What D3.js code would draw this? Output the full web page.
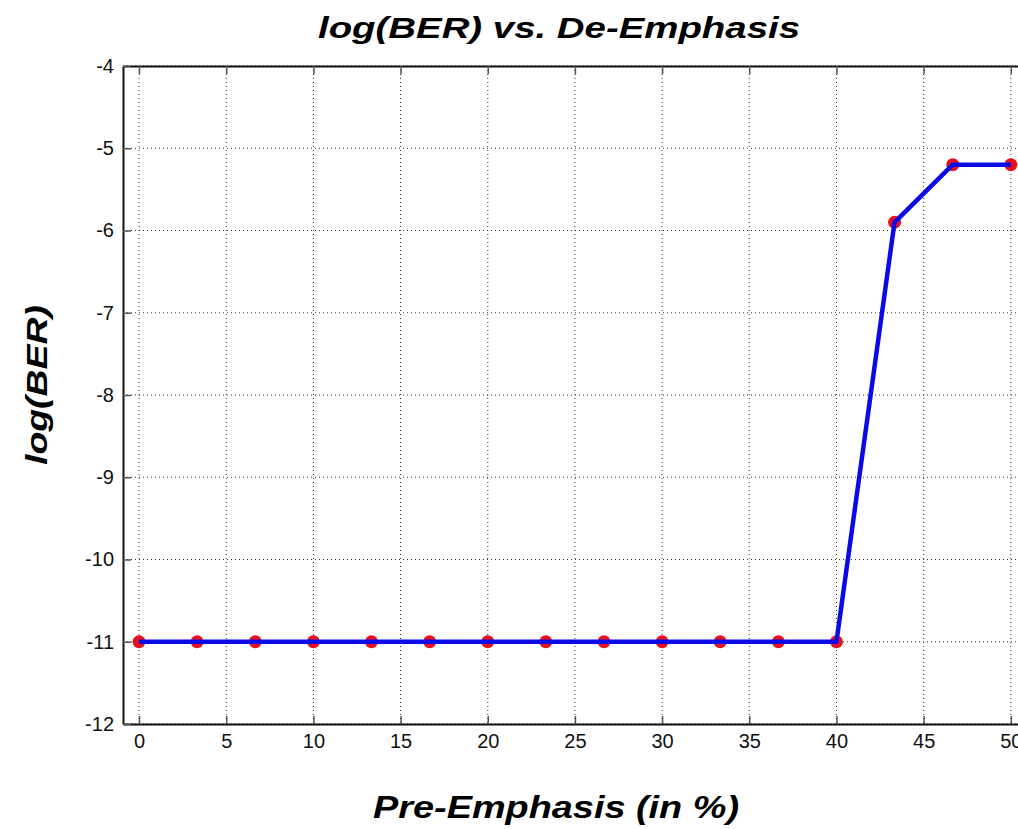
<!DOCTYPE html>
<html>
<head>
<meta charset="utf-8">
<script src="https://cdn.jsdelivr.net/npm/d3@7"></script>
<style>
  body { margin: 0; background: #fff; }
  text { font-family: "Liberation Sans", Arial, sans-serif; }
</style>
</head>
<body>
<div id="chart"></div>
<script>
// data
var preEmphasis = [0, 3.33, 6.67, 10, 13.33, 16.67, 20, 23.33, 26.67, 30, 33.33, 36.67, 40, 43.33, 46.67, 50];
var logBer = [-11, -11, -11, -11, -11, -11, -11, -11, -11, -11, -11, -11, -11, -5.9, -5.2, -5.2];
var xTicks = [0, 5, 10, 15, 20, 25, 30, 35, 40, 45, 50];
var yTicks = [-12, -11, -10, -9, -8, -7, -6, -5, -4];

(function () {
  var width = 1018, height = 829;
  // plot box (right edge runs past the picture, as in the original)
  var margin = { left: 123, right: 1030, top: 66, bottom: 724 };

  var svg = d3.select("#chart").append("svg")
    .attr("width", width)
    .attr("height", height);

  var x = d3.scaleLinear().domain([-0.92, 51.1]).range([margin.left, margin.right]);
  var y = d3.scaleLinear().domain([-12, -4]).range([margin.bottom, margin.top]);

  // dotted grid
  var grid = svg.append("g").attr("stroke", "#333").attr("stroke-width", 1)
    .attr("stroke-dasharray", "1,3");
  grid.selectAll(".gx").data(xTicks).enter().append("line")
    .attr("x1", d => x(d)).attr("x2", d => x(d))
    .attr("y1", margin.top).attr("y2", margin.bottom);
  grid.selectAll(".gy").data(yTicks).enter().append("line")
    .attr("y1", d => y(d)).attr("y2", d => y(d))
    .attr("x1", margin.left).attr("x2", margin.right);

  // axes, ticks pointing inwards like matlab; plain hyphen for minus
  var fmt = d => String(d);
  var xAxis = svg.append("g").attr("transform", "translate(0," + margin.bottom + ")")
    .call(d3.axisBottom(x).tickValues(xTicks).tickFormat(fmt).tickSize(-8).tickPadding(10).tickSizeOuter(0));
  var xTop = svg.append("g").attr("transform", "translate(0," + margin.top + ")")
    .call(d3.axisTop(x).tickValues(xTicks).tickSize(-8).tickFormat("").tickSizeOuter(0));
  var yAxis = svg.append("g").attr("transform", "translate(" + margin.left + ",0)")
    .call(d3.axisLeft(y).tickValues(yTicks).tickFormat(fmt).tickSize(-8).tickPadding(16).tickSizeOuter(0));

  [xAxis, xTop, yAxis].forEach(function (g) {
    g.select(".domain").attr("stroke", "#111").attr("stroke-width", 2);
    g.selectAll(".tick line").attr("stroke", "#555").attr("stroke-width", 1.5);
    g.selectAll(".tick text").attr("fill", "#111").style("font-size", "20px")
      .style("font-family", "'Liberation Sans', Arial, sans-serif");
  });
  yAxis.selectAll(".tick text").attr("dx", "7px");

  // red markers
  svg.append("g").selectAll("circle")
    .data(preEmphasis)
    .enter().append("circle")
    .attr("cx", d => x(d))
    .attr("cy", (d, i) => y(logBer[i]))
    .attr("r", 6.5)
    .attr("fill", "#e8101c");

  // blue line on top
  var line = d3.line()
    .x(d => x(d[0]))
    .y(d => y(d[1]));
  svg.append("path")
    .datum(preEmphasis.map((d, i) => [d, logBer[i]]))
    .attr("d", line)
    .attr("fill", "none")
    .attr("stroke", "#0a0ae6")
    .attr("stroke-width", 4.5)
    .attr("stroke-linejoin", "round");

  // titles (the original font runs wide, so stretch to its length)
  svg.append("text")
    .attr("x", 318).attr("y", 38)
    .attr("textLength", 482).attr("lengthAdjust", "spacingAndGlyphs")
    .style("font-size", "30px").style("font-weight", "bold").style("font-style", "italic")
    .text("log(BER) vs. De-Emphasis");

  svg.append("text")
    .attr("x", 373).attr("y", 818)
    .attr("textLength", 366).attr("lengthAdjust", "spacingAndGlyphs")
    .style("font-size", "31px").style("font-weight", "bold").style("font-style", "italic")
    .text("Pre-Emphasis (in %)");

  svg.append("text")
    .attr("transform", "translate(47,465) rotate(-90)")
    .attr("textLength", 160).attr("lengthAdjust", "spacingAndGlyphs")
    .style("font-size", "30px").style("font-weight", "bold").style("font-style", "italic")
    .text("log(BER)");
}());
</script>
</body>
</html>
